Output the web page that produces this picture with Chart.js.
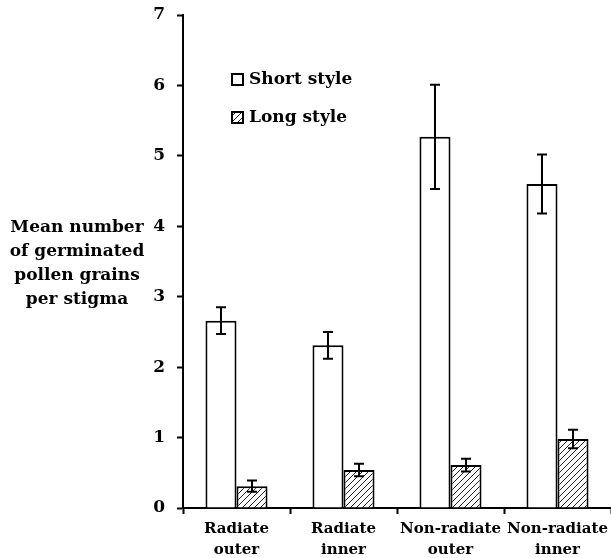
<!DOCTYPE html>
<html>
<head>
<meta charset="utf-8">
<script src="https://cdn.jsdelivr.net/npm/chart.js@4"></script>
<style>
  html, body { margin: 0; padding: 0; background: #fff; }
  #wrap { width: 611px; height: 558px; }
</style>
</head>
<body>
<div id="wrap"><canvas id="barChart"></canvas></div>
<script>
const categories = [["Radiate", "outer"], ["Radiate", "inner"], ["Non-radiate", "outer"], ["Non-radiate", "inner"]];
const shortStyle = [2.66, 2.31, 5.27, 4.60];
const shortErr = [0.19, 0.19, 0.74, 0.42];
const longStyle = [0.31, 0.54, 0.61, 0.98];
const longErr = [0.08, 0.09, 0.09, 0.13];
const yTicks = [0, 1, 2, 3, 4, 5, 6, 7];
const yTitle = ["Mean number", "of germinated", "pollen grains", "per stigma"];

const FONT = "'DejaVu Serif', serif";

function hatch() {
    const c = document.createElement("canvas");
    c.width = 6; c.height = 6;
    const g = c.getContext("2d");
    g.fillStyle = "#fff";
    g.fillRect(0, 0, 6, 6);
    g.strokeStyle = "#222";
    g.lineWidth = 1;
    g.beginPath();
    g.moveTo(-1, 7); g.lineTo(7, -1);
    g.moveTo(-1, 1); g.lineTo(1, -1);
    g.moveTo(5, 7); g.lineTo(7, 5);
    g.stroke();
    return g.createPattern(c, "repeat");
}

const errorBars = {
    id: "errorBars",
    afterDatasetsDraw(chart) {
        const ctx = chart.ctx;
        const y = chart.scales.y;
        chart.data.datasets.forEach((ds, i) => {
            const meta = chart.getDatasetMeta(i);
            meta.data.forEach((bar, j) => {
                const v = ds.data[j], e = ds.errors[j];
                const top = y.getPixelForValue(v + e);
                const bot = y.getPixelForValue(v - e);
                ctx.save();
                ctx.strokeStyle = "#000";
                ctx.lineWidth = 2;
                ctx.beginPath();
                ctx.moveTo(bar.x, top); ctx.lineTo(bar.x, bot);
                ctx.moveTo(bar.x - 5, top); ctx.lineTo(bar.x + 5, top);
                ctx.moveTo(bar.x - 5, bot); ctx.lineTo(bar.x + 5, bot);
                ctx.stroke();
                ctx.restore();
            });
        });
    }
};

const sideText = {
    id: "sideText",
    afterDraw(chart) {
        const ctx = chart.ctx;
        ctx.save();
        ctx.fillStyle = "#000";
        ctx.font = "bold 17px " + FONT;
        ctx.textAlign = "center";
        ctx.textBaseline = "middle";
        yTitle.forEach((t, i) => ctx.fillText(t, 77, 228 + i * 24));

        // legend inside the plot
        ctx.textAlign = "left";
        ctx.font = "bold 17px " + FONT;
        chart.data.datasets.forEach((ds, i) => {
            const cy = 80 + i * 38;
            ctx.fillStyle = ds.backgroundColor;
            ctx.fillRect(232, cy - 6, 11, 11);
            ctx.strokeStyle = "#000";
            ctx.lineWidth = 2;
            ctx.strokeRect(232, cy - 6, 11, 11);
            ctx.fillStyle = "#000";
            ctx.fillText(ds.label, 249, cy);
        });
        ctx.restore();
    }
};

new Chart(document.getElementById("barChart"), {
    type: "bar",
    data: {
        labels: categories,
        datasets: [
            {
                label: "Short style",
                data: shortStyle,
                errors: shortErr,
                backgroundColor: "#fff",
                borderColor: "#000",
                borderWidth: 2
            },
            {
                label: "Long style",
                data: longStyle,
                errors: longErr,
                backgroundColor: hatch(),
                borderColor: "#000",
                borderWidth: 2
            }
        ]
    },
    options: {
        responsive: true,
        maintainAspectRatio: false,
        animation: false,
        categoryPercentage: 0.58,
        barPercentage: 1.0,
        layout: { padding: { top: 15, right: 0, left: 0, bottom: 0 } },
        plugins: {
            legend: { display: false },
            tooltip: { enabled: false }
        },
        scales: {
            x: {
                grid: { drawOnChartArea: false, tickLength: 6, tickColor: "#000", tickWidth: 2, offset: true },
                border: { color: "#000", width: 2 },
                ticks: { color: "#000", font: { family: FONT, weight: "bold", size: 15, lineHeight: 1.4 }, maxRotation: 0, padding: 5 },
                afterFit(s) { s.height = 50; s.paddingLeft = 0; s.paddingRight = 0; }
            },
            y: {
                min: 0,
                max: 7,
                afterBuildTicks(s) { s.ticks = yTicks.map(v => ({ value: v })); },
                grid: { drawOnChartArea: false, tickLength: 6, tickColor: "#000", tickWidth: 2 },
                border: { color: "#000", width: 2 },
                ticks: { color: "#000", font: { family: FONT, weight: "bold", size: 17 }, padding: 12 },
                afterFit(s) { s.width = 183; s.paddingTop = 0; s.paddingBottom = 0; }
            }
        }
    },
    plugins: [errorBars, sideText]
});
</script>
</body>
</html>
